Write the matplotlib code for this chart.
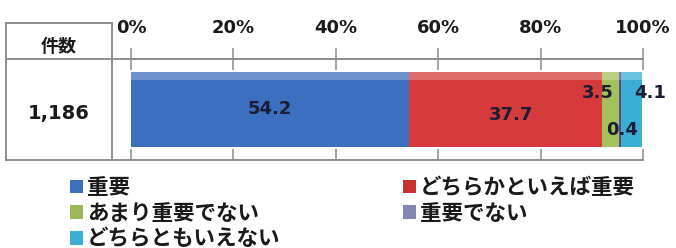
import matplotlib
matplotlib.use("Agg")
import matplotlib.pyplot as plt
import matplotlib.patches as mpatches
from matplotlib.lines import Line2D
import numpy as np

# ---- data ----
categories = ["重要", "どちらかといえば重要", "あまり重要でない", "重要でない", "どちらともいえない"]
values = [54.2, 37.7, 3.5, 0.4, 4.1]
value_labels = ["54.2", "37.7", "3.5", "0.4", "4.1"]
count_header = "件数"
count_value = "1,186"
tick_values = [0, 20, 40, 60, 80, 100]
tick_labels = ["0%", "20%", "40%", "60%", "80%", "100%"]

# ---- style ----
colors = ["#3D6FC0", "#D63A3A", "#A3C25C", "#5B4A8A", "#3AAED6"]
legend_colors = ["#3D6FC0", "#C83232", "#9AB857", "#8585B5", "#3AAED6"]
line_col = "#8c8c8c"
W, H = 676, 248

fig = plt.figure(figsize=(W / 100, H / 100), dpi=100)

def fx(px):
    return px / W

def fy(py):
    return 1 - py / H

# axes area: x 131..643 px, y 59..160 px
ax = fig.add_axes([fx(131), fy(160), fx(643) - fx(131), fy(59) - fy(160)])
ax.set_xlim(0, 100)
ax.set_ylim(-0.5, 0.5)
for s in ax.spines.values():
    s.set_visible(False)
ax.set_yticks([])
ax.set_xticks(tick_values)
ax.tick_params(axis="x", bottom=True, top=False, labelbottom=False,
               direction="in", length=8, width=1.1, color=line_col)

# top tick axis
sec = ax.secondary_xaxis("top")
sec.set_xticks(tick_values, tick_labels)
sec.tick_params(axis="x", direction="inout", length=16, width=1.1, color=line_col, pad=8,
                labelsize=13)
for lab in sec.get_xticklabels():
    lab.set_fontweight("bold")
    lab.set_family("DejaVu Sans")
    lab.set_color("#1a1a1a")
sec.spines["top"].set_visible(False)

# stacked bar
lefts = np.concatenate([[0], np.cumsum(values)[:-1]])
bar_h = 0.75
for v, l, c in zip(values, lefts, colors):
    ax.barh(0, v, left=l, height=bar_h, color=c, edgecolor="none")
    # light highlight band at top for a glossy look
    ax.barh(bar_h / 2 - 0.04, v, left=l, height=0.08, color="white", alpha=0.25, edgecolor="none")

# value labels (positions are layout only)
label_x = [lefts[0] + values[0] / 2,
           lefts[1] + values[1] / 2 + 1.2,
           lefts[2] - 0.7,
           lefts[3] + 0.5,
           lefts[4] + values[4] + 1.4]
label_y = [0.0, -0.05, 0.16, -0.2, 0.16]
for t, x, y in zip(value_labels, label_x, label_y):
    ax.text(x, y, t, ha="center", va="center", fontsize=13, fontweight="bold",
            family="DejaVu Sans", color="#1c1c34", clip_on=False)

# table lines
def hline(y, x0, x1):
    fig.add_artist(Line2D([fx(x0), fx(x1)], [fy(y), fy(y)], color=line_col, lw=1.4,
                          transform=fig.transFigure))

def vline(x, y0, y1):
    fig.add_artist(Line2D([fx(x), fx(x)], [fy(y0), fy(y1)], color=line_col, lw=1.4,
                          transform=fig.transFigure))

hline(23, 6, 112)
hline(59, 6, 643)
hline(160, 6, 643)
vline(6, 23, 160)
vline(112, 23, 160)

cjk = ["Noto Sans CJK JP", "DejaVu Sans"]
fig.text(fx(59), fy(46), count_header, ha="center", va="center", fontsize=13,
         fontweight="bold", family=cjk, color="#1a1a1a")
fig.text(fx(59), fy(114), count_value, ha="center", va="center", fontsize=14,
         fontweight="bold", family="DejaVu Sans", color="#1a1a1a")

# legend: two columns, row-major order
handles = [mpatches.Patch(facecolor=c, edgecolor="none") for c in legend_colors]
prop = dict(family=cjk, weight="bold", size=15.5)
common = dict(frameon=False, prop=prop, handlelength=0.6, handleheight=0.6,
              handletextpad=0.2, borderpad=0, borderaxespad=0, labelspacing=0.22,
              loc="upper left")
col1 = [0, 2, 4]
col2 = [1, 3]
leg1 = fig.legend([handles[i] for i in col1], [categories[i] for i in col1],
                  bbox_to_anchor=(fx(70), fy(177)), **common)
leg2 = fig.legend([handles[i] for i in col2], [categories[i] for i in col2],
                  bbox_to_anchor=(fx(403), fy(177)), **common)
for lg in (leg1, leg2):
    for t in lg.get_texts():
        t.set_color("#1a1a1a")

fig.savefig("out.png", dpi=100)
